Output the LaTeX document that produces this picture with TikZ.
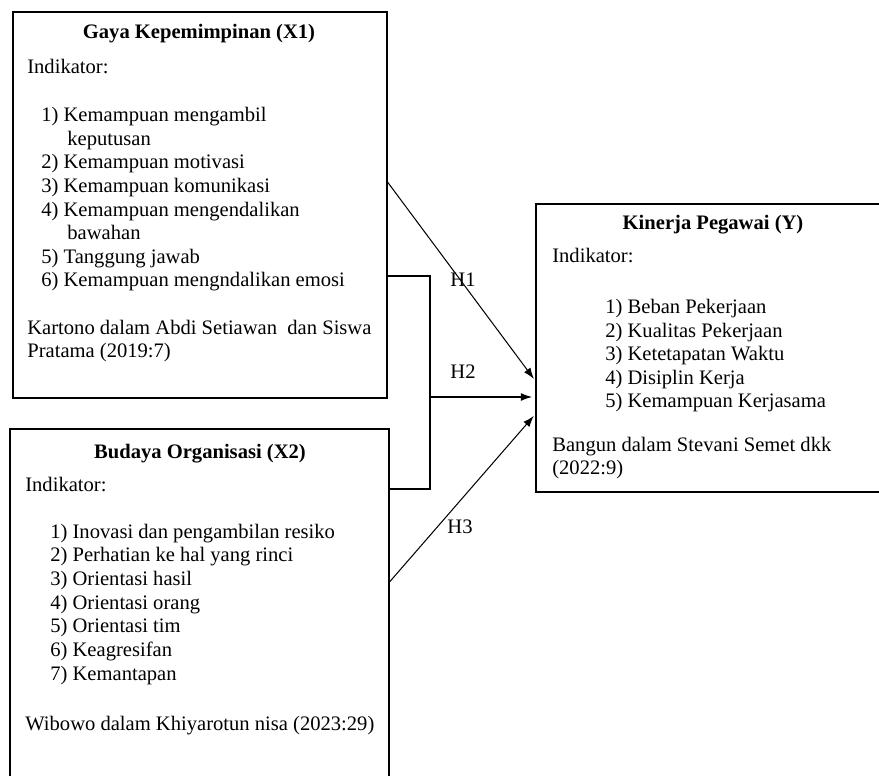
\documentclass[tikz,border=0pt]{standalone}
\usepackage{fontspec}
\setmainfont{Liberation Serif}
\usetikzlibrary{arrows.meta,fit}
\tikzset{
  box/.style  = {draw, line width=0.6pt, inner sep=0pt},
  ttl/.style  = {font=\fontsize{12}{13.76}\selectfont\bfseries, anchor=base, inner sep=0pt},
  txt/.style  = {font=\fontsize{12}{13.76}\selectfont, anchor=base west, align=left, inner sep=0pt},
  hyp/.style  = {font=\fontsize{12}{13.76}\selectfont, inner sep=0pt},
  ar/.style   = {-{Latex[length=6.5pt,width=4.6pt]}, line width=0.6pt},
  ln/.style   = {line width=0.6pt}
}

\begin{document}
\begin{tikzpicture}[x=0.583pt, y=-0.583pt]
\useasboundingbox (0,0) rectangle (879,776);
\clip (0,0) rectangle (879,776);

% ---------------- Gaya Kepemimpinan ----------------
% (base of a text block = baseline of its last line)
\node[box, fit={(13,12) (387,398)}] (x1) {};
\node[ttl] (x1t) at (199,39) {Gaya Kepemimpinan (X1)};
\node[txt] (x1i) at (27,74) {Indikator:};
\node[txt] (x1l) at (41,287)
      {1) Kemampuan mengambil\\ \hspace*{15.2pt}keputusan\\
       2) Kemampuan motivasi\\ 3) Kemampuan komunikasi\\
       4) Kemampuan mengendalikan\\ \hspace*{15.2pt}bawahan\\
       5) Tanggung jawab\\ 6) Kemampuan mengndalikan emosi};
\node[txt] (x1s) at (27,358)
      {Kartono dalam Abdi Setiawan\ \ dan Siswa\\ Pratama (2019:7)};

% ---------------- Budaya Organisasi ----------------
\node[box, fit={(10,429) (389,820)}] (x2) {};
\node[ttl] (x2t) at (200,459) {Budaya Organisasi (X2)};
\node[txt] (x2i) at (25,492) {Indikator:};
\node[txt] (x2l) at (50,680)
      {1) Inovasi dan pengambilan resiko\\ 2) Perhatian ke hal yang rinci\\
       3) Orientasi hasil\\ 4) Orientasi orang\\ 5) Orientasi tim\\
       6) Keagresifan\\ 7) Kemantapan};
\node[txt] (x2s) at (25,730) {Wibowo dalam Khiyarotun nisa (2023:29)};

% ---------------- Kinerja Pegawai ----------------
\node[box, fit={(536,204) (900,492)}] (y) {};
\node[ttl] (yt) at (713,230) {Kinerja Pegawai (Y)};
\node[txt] (yi) at (552,263) {Indikator:};
\node[txt] (yl) at (605,408)
      {1) Beban Pekerjaan\\ 2) Kualitas Pekerjaan\\ 3) Ketetapatan Waktu\\
       4) Disiplin Kerja\\ 5) Kemampuan Kerjasama};
\node[txt] (ys) at (552,475) {Bangun dalam Stevani Semet dkk\\ (2022:9)};

% ---------------- edges ----------------
\coordinate (jn) at (430,397);
\draw[ar, shorten >=1.5pt] (x1.east |- 0,182) -- (y.west |- 0,381);
\draw[ln] (x1.east |- 0,276) -- (jn |- 0,276) -- (jn |- 0,489) -- (x2.east |- 0,489);
\draw[ar, shorten >=2pt] (jn) -- (y.west |- jn);
\draw[ar, shorten >=1.5pt] (x2.east |- 0,582) -- (y.west |- 0,414);

% hypothesis labels
\node[hyp] (h1) at (463,280) {H1};
\node[hyp] (h2) at (463,372) {H2};
\node[hyp] (h3) at (460,527) {H3};

\end{tikzpicture}
\end{document}
